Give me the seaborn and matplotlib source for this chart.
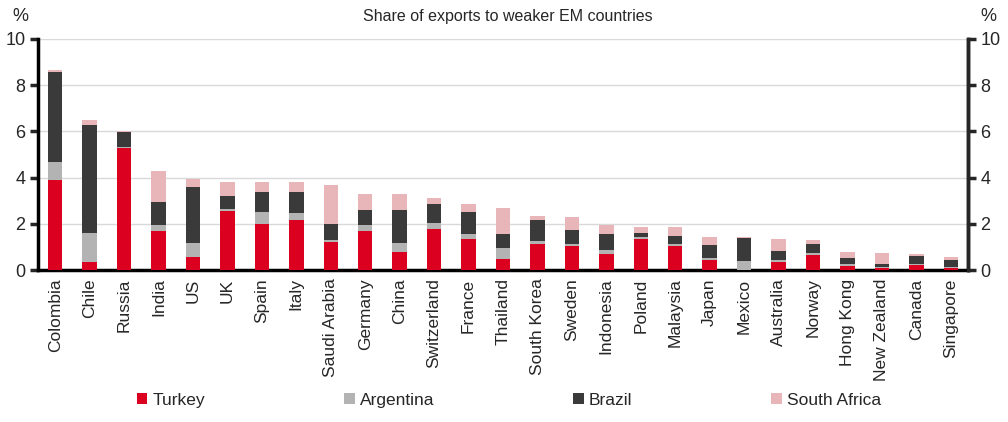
import matplotlib
matplotlib.use("Agg")
import matplotlib.pyplot as plt
from matplotlib.patches import Patch
from matplotlib.ticker import FixedLocator
import pandas as pd
import seaborn as sns

sns.set_style("white")
plt.rcParams['font.family'] = ['Liberation Sans', 'DejaVu Sans']

# Data (% of exports)
countries = ['Colombia', 'Chile', 'Russia', 'India', 'US', 'UK', 'Spain', 'Italy',
             'Saudi Arabia', 'Germany', 'China', 'Switzerland', 'France', 'Thailand',
             'South Korea', 'Sweden', 'Indonesia', 'Poland', 'Malaysia', 'Japan',
             'Mexico', 'Australia', 'Norway', 'Hong Kong', 'New Zealand', 'Canada',
             'Singapore']
turkey = [3.88, 0.35, 5.26, 1.68, 0.57, 2.55, 1.99, 2.16, 1.22, 1.68, 0.77, 1.77, 1.35,
          0.46, 1.12, 1.03, 0.68, 1.35, 1.06, 0.43, 0.02, 0.36, 0.67, 0.17, 0.09, 0.22, 0.09]
argentina = [0.79, 1.27, 0.05, 0.25, 0.62, 0.10, 0.50, 0.32, 0.06, 0.25, 0.42, 0.27, 0.23,
             0.51, 0.14, 0.11, 0.20, 0.07, 0.06, 0.11, 0.37, 0.07, 0.05, 0.09, 0.04, 0.06, 0.03]
brazil = [3.88, 4.66, 0.64, 1.03, 2.39, 0.55, 0.87, 0.88, 0.71, 0.68, 1.39, 0.82, 0.91,
          0.58, 0.90, 0.58, 0.69, 0.17, 0.36, 0.53, 0.99, 0.41, 0.41, 0.25, 0.15, 0.33, 0.30]
south_africa = [0.10, 0.20, 0.07, 1.34, 0.36, 0.63, 0.44, 0.44, 1.71, 0.69, 0.70, 0.24, 0.38,
                1.12, 0.17, 0.57, 0.40, 0.29, 0.38, 0.38, 0.04, 0.51, 0.15, 0.26, 0.44, 0.09, 0.13]

series = ['Turkey', 'Argentina', 'Brazil', 'South Africa']
colors = ['#DC0020', '#B3B3B3', '#3A3A3A', '#E8B5B8']

df = pd.DataFrame({'country': countries, 'Turkey': turkey, 'Argentina': argentina,
                   'Brazil': brazil, 'South Africa': south_africa})
# cumulative heights so overlapping bars look stacked
cum = df[series].cumsum(axis=1)

fig = plt.figure(figsize=(10.08, 4.22), dpi=100)
ax = fig.add_axes([0.0377, 0.36, 0.9226, 0.548])

for s, c in reversed(list(zip(series, colors))):
    sns.barplot(x=df['country'], y=cum[s], color=c, width=0.42, ax=ax,
                saturation=1, linewidth=0, zorder=3)

ax.set_xlim(-0.5, len(countries) - 0.5)
ax.set_ylim(0, 10)
ax.set_yticks(range(0, 11, 2))
ax.set_xlabel('')
ax.set_ylabel('')
ax.yaxis.grid(True, color='#D9D9D9', linewidth=1, zorder=0)
ax.set_axisbelow(True)

for side in ['left', 'bottom', 'right']:
    ax.spines[side].set_linewidth(2.5)
    ax.spines[side].set_color('black')
ax.spines['top'].set_visible(False)

ax.set_xticks(range(len(countries)))
ax.set_xticklabels(countries, rotation=90, fontsize=12.5)
ax.tick_params(axis='x', which='major', length=0, pad=6)
ax.xaxis.set_minor_locator(FixedLocator([i - 0.5 for i in range(len(countries) + 1)]))
ax.tick_params(axis='x', which='minor', length=6, width=2.5, direction='out')
ax.tick_params(axis='y', length=6, width=2.5, direction='out', labelsize=13, pad=3)

ax2 = ax.twinx()
ax2.set_ylim(0, 10)
ax2.set_yticks(range(0, 11, 2))
ax2.tick_params(axis='y', length=6, width=2.5, direction='out', labelsize=13, pad=3)
for side in ['left', 'bottom', 'top']:
    ax2.spines[side].set_visible(False)
ax2.spines['right'].set_linewidth(2.5)

fig.text(0.504, 0.96, 'Share of exports to weaker EM countries', ha='center', va='center',
         fontsize=11.5)
fig.text(0.012, 0.96, '%', ha='left', va='center', fontsize=13)
fig.text(0.988, 0.96, '%', ha='right', va='center', fontsize=13)

handles = [Patch(facecolor=c, edgecolor='none', label=s) for s, c in zip(series, colors)]
fig.legend(handles=handles, loc='center', bbox_to_anchor=(0.505, 0.052), ncol=4,
           frameon=False, fontsize=12.5, handlelength=0.6, handleheight=0.6,
           handletextpad=0.3, columnspacing=8)

fig.savefig('out.png', dpi=100)
